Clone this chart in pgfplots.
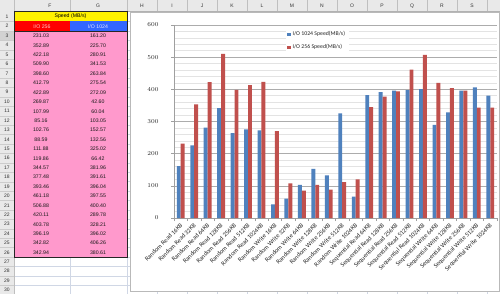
\documentclass[border=0pt]{standalone}
\usepackage{fontspec}
\setmainfont{Carlito}
\newfontfamily\cellfont{Liberation Sans}
\usepackage{pgfplots}
\pgfplotsset{compat=1.18}
\usepackage{pgfplotstable}
\definecolor{xlblue}{HTML}{4F81BD}
\definecolor{xlred}{HTML}{C0504D}
\definecolor{cellgrid}{HTML}{D0D7E5}
\definecolor{hdrfill}{HTML}{E9E9E9}
\definecolor{pinkcell}{HTML}{FF99CC}
\definecolor{bluecell}{HTML}{3366FF}

\pgfplotstableread{
idx io1024 io256
0 161.20 231.03
1 225.70 352.89
2 280.91 422.18
3 341.53 509.90
4 263.84 398.60
5 275.54 412.79
6 272.09 422.89
7 42.60 269.87
8 60.04 107.99
9 103.05 85.16
10 152.57 102.76
11 132.56 88.59
12 325.02 111.88
13 66.42 119.86
14 381.96 344.57
15 391.61 377.48
16 396.04 393.46
17 397.55 461.18
18 400.40 506.88
19 289.78 420.11
20 328.21 403.78
21 396.02 396.19
22 406.26 342.82
23 380.61 342.94
}\speeddata

\begin{document}
\begin{tikzpicture}
\useasboundingbox (0,0) rectangle (500pt,-294pt);
\begin{scope}[x=1pt,y=-1pt]
  \fill[white] (0,0) rectangle (500,294);
  % cell grid
  \foreach \x in {14,70,127,157,...,487} \draw[cellgrid,line width=0.5pt] (\x,11.5) -- (\x,294);
  \foreach \i in {0,...,28} {\pgfmathsetmacro\yy{31+9.42*\i}\draw[cellgrid,line width=0.5pt] (0,\yy) -- (500,\yy);}
  \draw[cellgrid,line width=0.5pt] (0,21.3) -- (500,21.3);
  % column header
  \fill[hdrfill] (0,0) rectangle (500,11.5);
  \draw[gray!60,line width=0.5pt] (0,11.5) -- (500,11.5);
  \foreach \x in {14,70,127,157,...,487} \draw[gray!50,line width=0.5pt] (\x,0) -- (\x,11.5);
  \foreach \l/\x in {F/50,G/98,H/142,I/172,J/202,K/232,L/262,M/292,N/322,O/352,P/382,Q/412,R/442,S/472}
    \node[font=\cellfont\fontsize{5}{6}\selectfont,text=black!80,inner sep=0pt] at (\x,6) {\l};
  % row header
  \fill[hdrfill] (0,11.5) rectangle (14,294);
  \draw[gray!50,line width=0.5pt] (14,11.5) -- (14,294);
  \fill[gray!35] (0,31) rectangle (14,40.42);
  \node[font=\cellfont\fontsize{5}{6}\selectfont,text=black!80,inner sep=0pt] at (7,16.4) {1};
  \node[font=\cellfont\fontsize{5}{6}\selectfont,text=black!80,inner sep=0pt] at (7,26.1) {2};
  \foreach \n in {3,...,30} {\pgfmathsetmacro\yy{31+9.42*(\n-3)+4.71}
    \node[font=\cellfont\fontsize{5}{6}\selectfont,text=black!80,inner sep=0pt] at (7,\yy) {\n};
    \pgfmathsetmacro\yb{31+9.42*(\n-2)}
    \draw[gray!40,line width=0.4pt] (0,\yb) -- (14,\yb);}
  \draw[gray!40,line width=0.4pt] (0,21.3) -- (14,21.3) (0,31) -- (14,31);
  % table
  \fill[yellow] (14,11.5) rectangle (127,21.3);
  \fill[red] (14,21.3) rectangle (70,31);
  \fill[bluecell] (70,21.3) rectangle (127,31);
  \fill[pinkcell] (14,31) rectangle (127,257.1);
  \node[font=\cellfont\fontsize{5.2}{6}\selectfont,text=black,inner sep=0pt] at (70.5,16.6) {Speed (MB/s)};
  \node[font=\cellfont\fontsize{5.2}{6}\selectfont,text=red!20,inner sep=0pt] at (42,26.3) {I/O 256};
  \node[font=\cellfont\fontsize{5.2}{6}\selectfont,text=blue!10,inner sep=0pt] at (98,26.3) {I/O 1024};
  \foreach \a/\b [count=\i] in {231.03/161.20,352.89/225.70,422.18/280.91,509.90/341.53,398.60/263.84,412.79/275.54,422.89/272.09,269.87/42.60,107.99/60.04,85.16/103.05,102.76/152.57,88.59/132.56,111.88/325.02,119.86/66.42,344.57/381.96,377.48/391.61,393.46/396.04,461.18/397.55,506.88/400.40,420.11/289.78,403.78/328.21,396.19/396.02,342.82/406.26,342.94/380.61}{
    \pgfmathsetmacro\yy{31+9.42*(\i-1)+4.9}
    \node[font=\cellfont\fontsize{5.2}{6}\selectfont,text=black!90,inner sep=0pt] at (41,\yy) {\a};
    \node[font=\cellfont\fontsize{5.2}{6}\selectfont,text=black!90,inner sep=0pt] at (98,\yy) {\b};}
  \draw[black!85,line width=0.8pt] (14,11.5) rectangle (127,257.1);
  \draw[black!85,line width=0.6pt] (14,31) -- (127,31);
  % chart area
  \fill[white] (130,12) rectangle (499,291);
  \draw[gray!55,line width=0.5pt] (130,12) rectangle (499.5,291);
\end{scope}
\begin{axis}[
  at={(174pt,-218pt)}, anchor=south west,
  scale only axis, width=323pt, height=193pt,
  xmin=-0.5, xmax=23.5, ymin=0, ymax=600,
  ybar=0pt, bar width=3.9pt,
  axis lines=left, axis line style={-,gray!75,line width=0.5pt},
  tick align=outside,
  xtick={0,...,23},
  xticklabels={Random Read 16KB,Random Read 32KB,Random Read 64KB,Random Read 128KB,Random Read 256KB,Random Read 512KB,Random Read 1024KB,Random Write 16KB,Random Write 32KB,Random Write 64KB,Random Write 128KB,Random Write 256KB,Random Write 512KB,Random Write 1024KB,Sequential Read 64KB,Sequential Read 128KB,Sequential Read 256KB,Sequential Read 512KB,Sequential Read 1024KB,Sequential Write 64KB,Sequential Write 128KB,Sequential Write 256KB,Sequential Write 512KB,Sequential Write 1024KB},
  major x tick style={draw=none},
  minor xtick={-0.5,0.5,...,23.5},
  minor x tick style={gray!75,line width=0.5pt},
  minor tick length=3pt, major tick length=3pt,
  x tick label style={rotate=45,anchor=north east,font=\fontsize{6.3}{7}\selectfont,text=black!85,inner sep=0.5pt,xshift=-1.5pt},
  ytick={0,100,...,600},
  minor ytick={20,40,...,580},
  minor y tick style={draw=none},
  major y tick style={gray!75,line width=0.5pt},
  ymajorgrids, yminorgrids,
  major grid style={gray!65,line width=0.6pt},
  minor grid style={gray!22,line width=0.6pt},
  y tick label style={font=\fontsize{6}{7}\selectfont,text=black!85,xshift=-9pt},
  legend style={at={(0.345,0.985)},anchor=north west,draw=none,fill=white,inner sep=1.5pt,
    font=\fontsize{5.8}{6.5}\selectfont,row sep=3pt,text=black!85},
  legend cell align=left,
]
\addplot[fill=xlblue,draw=none,legend image code/.code={\fill[xlblue] (0pt,-1.7pt) rectangle (3.4pt,1.7pt);}] table[x=idx,y=io1024]{\speeddata};
\addplot[fill=xlred,draw=none,legend image code/.code={\fill[xlred] (0pt,-1.7pt) rectangle (3.4pt,1.7pt);}] table[x=idx,y=io256]{\speeddata};
\legend{I/O 1024 Speed(MB/s),I/O 256 Speed(MB/s)}
\end{axis}
\end{tikzpicture}
\end{document}
